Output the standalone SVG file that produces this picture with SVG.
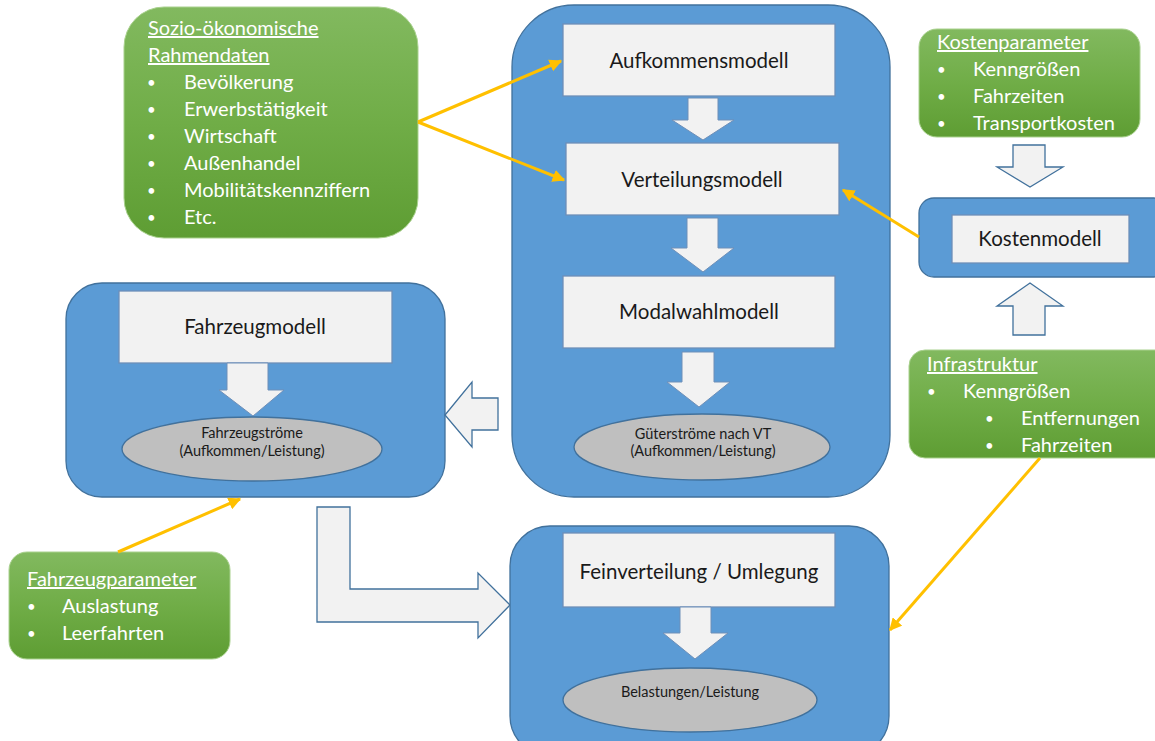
<svg xmlns="http://www.w3.org/2000/svg" width="1155" height="741" viewBox="0 0 1155 741">
<defs>
<linearGradient id="gg" x1="0" y1="0" x2="0" y2="1">
<stop offset="0" stop-color="#82B95F"/>
<stop offset="0.5" stop-color="#70AD47"/>
<stop offset="1" stop-color="#5E9D33"/>
</linearGradient>
<marker id="ah" viewBox="0 0 10 10" refX="9" refY="5" markerWidth="4.2" markerHeight="4.2" orient="auto" markerUnits="strokeWidth">
<path d="M0,0 L10,5 L0,10 Z" fill="#FFC000"/>
</marker>
<style>
.blue{fill:#5B9BD5;stroke:#41719C;stroke-width:1.3}
.green{fill:url(#gg);stroke:#A9D18E;stroke-width:1}
.box{fill:#F2F2F2;stroke:#6E8FB8;stroke-width:1.3}
.ell{fill:#BFBFBF;stroke:#41719C;stroke-width:1.3}
.harr{fill:#F2F2F2;stroke:#41719C;stroke-width:1.3}
.warr{fill:#F2F2F2;stroke:#6E8FB8;stroke-width:1}
.t{font-family:Lato,"Open Sans",sans-serif;fill:#1a1a1a}
.big{font-size:20.5px}
.sm{font-size:14.5px}
.w{font-family:Lato,"Open Sans",sans-serif;fill:#ffffff;font-size:20px}
.b{font-size:15px}
.u{text-decoration:underline}
.con{fill:none;stroke:#FFC000;stroke-width:3;marker-end:url(#ah)}
</style>
</defs>
<rect width="1155" height="741" fill="#ffffff"/>

<g id="sozio">
<rect class="green" x="124" y="7" width="294" height="231" rx="40"/>
<text class="w u" x="148" y="35">Sozio-ökonomische</text>
<text class="w u" x="148" y="62">Rahmendaten</text>
<g class="w">
<text class="b" x="147" y="88">•</text><text x="184" y="89">Bevölkerung</text>
<text class="b" x="147" y="115">•</text><text x="184" y="116">Erwerbstätigkeit</text>
<text class="b" x="147" y="142">•</text><text x="184" y="143">Wirtschaft</text>
<text class="b" x="147" y="169">•</text><text x="184" y="170">Außenhandel</text>
<text class="b" x="147" y="196">•</text><text x="184" y="197">Mobilitätskennziffern</text>
<text class="b" x="147" y="223">•</text><text x="184" y="224">Etc.</text>
</g>
</g>

<g id="hauptmodell">
<rect class="blue" x="512" y="5" width="378" height="492" rx="62"/>
</g>
<g id="aufkommen">
<rect class="box" x="563" y="24" width="272" height="72"/>
<text class="t big" x="699" y="68" text-anchor="middle">Aufkommensmodell</text>
</g>
<path class="warr" d="M688,98 L718,98 L718,120 L734,120 L703,140 L672,120 L688,120 Z"/>
<g id="verteilung">
<rect class="box" x="566" y="143" width="273" height="72"/>
<text class="t big" x="702" y="187" text-anchor="middle">Verteilungsmodell</text>
</g>
<path class="warr" d="M687,218 L718,218 L718,248 L734,248 L703,272 L671,248 L687,248 Z"/>
<g id="modalwahl">
<rect class="box" x="563" y="276" width="272" height="72"/>
<text class="t big" x="699" y="319" text-anchor="middle">Modalwahlmodell</text>
</g>
<path class="warr" d="M682,352 L714,352 L714,382 L730,382 L699,407 L667,382 L682,382 Z"/>
<g id="gueterstroeme">
<ellipse class="ell" cx="702" cy="447" rx="128" ry="33"/>
<text class="t sm" x="703" y="439" text-anchor="middle">Güterströme nach VT</text>
<text class="t sm" x="703" y="456" text-anchor="middle">(Aufkommen/Leistung)</text>
</g>

<g id="kostenparameter">
<rect class="green" x="919" y="29" width="221" height="108" rx="18"/>
<text class="w u" x="937" y="49">Kostenparameter</text>
<g class="w">
<text class="b" x="937" y="75">•</text><text x="973" y="76">Kenngrößen</text>
<text class="b" x="937" y="102">•</text><text x="973" y="103">Fahrzeiten</text>
<text class="b" x="937" y="129">•</text><text x="973" y="130">Transportkosten</text>
</g>
</g>
<path class="harr" d="M1013,145 L1045,145 L1045,167 L1063,167 L1030,187 L997,167 L1013,167 Z"/>
<g id="kostenmodell">
<rect class="blue" x="919" y="198" width="250" height="79" rx="15"/>
<rect class="box" x="952" y="215" width="177" height="48"/>
<text class="t big" x="1040" y="246" text-anchor="middle">Kostenmodell</text>
</g>
<path class="harr" d="M1030,283 L1063,306 L1045,306 L1045,335 L1013,335 L1013,306 L997,306 Z"/>
<g id="infrastruktur">
<rect class="green" x="909" y="350" width="270" height="108" rx="16"/>
<text class="w u" x="927" y="371">Infrastruktur</text>
<g class="w">
<text class="b" x="927" y="397">•</text><text x="963" y="398">Kenngrößen</text>
<text class="b" x="985" y="424">•</text><text x="1021" y="425">Entfernungen</text>
<text class="b" x="985" y="451">•</text><text x="1021" y="452">Fahrzeiten</text>
</g>
</g>

<g id="fahrzeugmodell">
<rect class="blue" x="66" y="283" width="379" height="214" rx="36"/>
<rect class="box" x="119" y="291" width="273" height="72"/>
<text class="t big" x="255" y="334" text-anchor="middle">Fahrzeugmodell</text>
<path class="warr" d="M227,363 L268,363 L268,390 L284,390 L253,416 L219,390 L227,390 Z"/>
<ellipse class="ell" cx="252" cy="449" rx="130" ry="32"/>
<text class="t sm" x="252" y="438" text-anchor="middle">Fahrzeugströme</text>
<text class="t sm" x="252" y="456" text-anchor="middle">(Aufkommen/Leistung)</text>
</g>
<path class="harr" d="M445,415 L472,382 L472,398 L498,398 L498,430 L472,430 L472,447 Z"/>

<g id="fahrzeugparameter">
<rect class="green" x="9" y="552" width="221" height="107" rx="18"/>
<text class="w u" x="27" y="586">Fahrzeugparameter</text>
<g class="w">
<text class="b" x="27" y="612">•</text><text x="62" y="613">Auslastung</text>
<text class="b" x="27" y="639">•</text><text x="62" y="640">Leerfahrten</text>
</g>
</g>

<path class="harr" d="M317,507 L350,507 L350,589 L478,589 L478,573 L510,605 L478,638 L478,622 L317,622 Z"/>

<g id="feinverteilung">
<rect class="blue" x="510" y="526" width="379" height="230" rx="40"/>
<rect class="box" x="563" y="533" width="272" height="74"/>
<text class="t big" x="699" y="579" text-anchor="middle">Feinverteilung / Umlegung</text>
<path class="warr" d="M680,607 L711,607 L711,633 L728,633 L695,659 L663,633 L680,633 Z"/>
<ellipse class="ell" cx="690" cy="700" rx="127" ry="32"/>
<text class="t sm" x="690" y="697" text-anchor="middle">Belastungen/Leistung</text>
</g>

<g id="connectors">
<path class="con" d="M418,122 L561,61"/>
<path class="con" d="M418,122 L564,180"/>
<path class="con" d="M919,237 L843,190"/>
<path class="con" d="M1040,458 L890,630"/>
<path class="con" d="M118,552 L240,499"/>
</g>
</svg>
